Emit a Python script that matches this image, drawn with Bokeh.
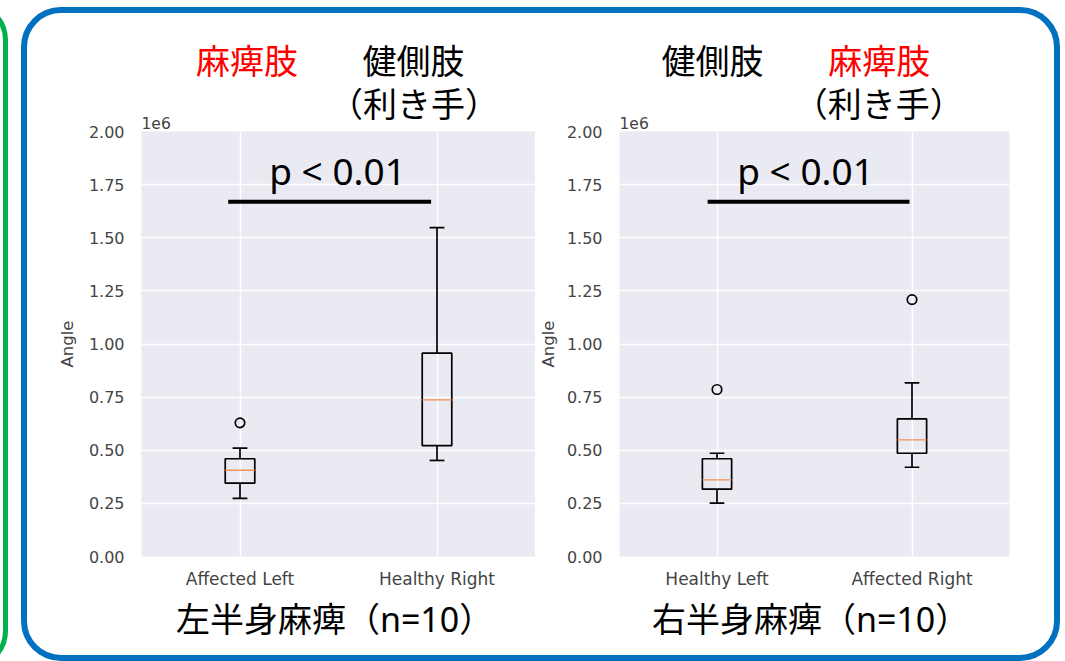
from bokeh.plotting import figure
from bokeh.layouts import row
from bokeh.models import FixedTicker, Label, ColumnDataSource, Range1d
from bokeh.embed import file_html
from bokeh.resources import INLINE

# ---------------- data (values in raw units, axis shows x1e6) ----------------
left_categories = ["Affected Left", "Healthy Right"]
left_whisker_low = [274000, 452000]
left_q1 = [345000, 522000]
left_median = [406000, 737000]
left_q3 = [460000, 957000]
left_whisker_high = [510000, 1548000]
left_outliers = [[629000], []]

right_categories = ["Healthy Left", "Affected Right"]
right_whisker_low = [251000, 420000]
right_q1 = [317000, 486000]
right_median = [361000, 549000]
right_q3 = [460000, 648000]
right_whisker_high = [486000, 817000]
right_outliers = [[786000], [1209000]]

y_ticks = [0, 250000, 500000, 750000, 1000000, 1250000, 1500000, 1750000, 2000000]
y_tick_labels = ["0.00", "0.25", "0.50", "0.75", "1.00", "1.25", "1.50", "1.75", "2.00"]

left_title = "左半身麻痺（n=10）"
right_title = "右半身麻痺（n=10）"
p_text = "p < 0.01"

AX_COLOR = "#444444"
MIXED = "Noto Sans, Noto Sans CJK JP"
CJK_ONLY = "Liberation Sans, Noto Sans CJK JP"


def build(cats, lo, q1, med, q3, hi, outl, width, bl, br, label_standoff, offset_place):
    p = figure(width=width, height=661, x_range=Range1d(0.5, 2.5), y_range=Range1d(0, 2000000),
               toolbar_location=None, output_backend="svg",
               min_border_left=bl, min_border_right=br, min_border_top=131, min_border_bottom=105,
               background_fill_color="#EAEAF2", border_fill_color="white", outline_line_color=None)
    pos = [1, 2]
    bw = 0.15
    src = ColumnDataSource(dict(
        x=pos, lo=lo, q1=q1, med=med, q3=q3, hi=hi,
        xl=[x - bw / 2 for x in pos], xr=[x + bw / 2 for x in pos],
        cl=[x - bw / 4 for x in pos], cr=[x + bw / 4 for x in pos],
    ))
    # whiskers
    p.segment(x0="x", y0="q3", x1="x", y1="hi", source=src, line_color="black", line_width=1.7)
    p.segment(x0="x", y0="q1", x1="x", y1="lo", source=src, line_color="black", line_width=1.7)
    # caps
    p.segment(x0="cl", y0="hi", x1="cr", y1="hi", source=src, line_color="black", line_width=1.7)
    p.segment(x0="cl", y0="lo", x1="cr", y1="lo", source=src, line_color="black", line_width=1.7)
    # boxes
    p.vbar(x="x", bottom="q1", top="q3", width=bw, source=src, fill_color=None,
           line_color="black", line_width=1.7)
    # medians
    p.segment(x0="xl", y0="med", x1="xr", y1="med", source=src, line_color="#f0905a", line_width=1.3)
    # outliers
    ox, oy = [], []
    for x, vals in zip(pos, outl):
        for v in vals:
            ox.append(x)
            oy.append(v)
    if ox:
        p.scatter(ox, oy, marker="circle", size=9.5, fill_color=None, line_color="black", line_width=1.7)

    # axes
    p.xaxis.ticker = FixedTicker(ticks=pos)
    p.xaxis.major_label_overrides = {1: cats[0], 2: cats[1]}
    p.yaxis.ticker = FixedTicker(ticks=y_ticks)
    p.yaxis.major_label_overrides = {t: l for t, l in zip(y_ticks, y_tick_labels)}
    for ax in (p.xaxis[0], p.yaxis[0]):
        ax.axis_line_color = None
        ax.major_tick_line_color = None
        ax.minor_tick_line_color = None
        ax.major_tick_out = 0
        ax.major_tick_in = 0
        ax.minor_tick_out = 0
        ax.major_label_text_font = "DejaVu Sans"
        ax.major_label_text_color = AX_COLOR
    p.yaxis.major_label_text_font_size = "16px"
    p.xaxis.major_label_text_font_size = "17px"
    p.yaxis.major_label_standoff = 17
    p.xaxis.major_label_standoff = 12
    p.yaxis.axis_label = "Angle"
    p.yaxis.axis_label_text_font = "DejaVu Sans"
    p.yaxis.axis_label_text_font_style = "normal"
    p.yaxis.axis_label_text_font_size = "16.5px"
    p.yaxis.axis_label_text_color = AX_COLOR
    p.yaxis.axis_label_standoff = label_standoff

    p.xgrid.ticker = FixedTicker(ticks=pos)
    p.ygrid.ticker = FixedTicker(ticks=y_ticks)
    p.grid.grid_line_color = "white"
    p.grid.grid_line_width = 1.5

    p.add_layout(Label(x=0.5, y=2042000, text="1e6", text_font="DejaVu Sans", text_font_size="15.5px",
                       text_color=AX_COLOR, text_align="left", text_baseline="middle"), offset_place)
    return p


def txt(p, x, y, text, place, color="black", size="34px", font=MIXED):
    p.add_layout(Label(x=x, y=y, text=text, text_font=font, text_font_size=size, text_color=color,
                       text_align="center", text_baseline="middle"), place)


p1 = build(left_categories, left_whisker_low, left_q1, left_median, left_q3, left_whisker_high,
           left_outliers, width=535, bl=141, br=0, label_standoff=9, offset_place="left")
p2 = build(right_categories, right_whisker_low, right_q1, right_median, right_q3, right_whisker_high,
           right_outliers, width=530, bl=80, br=56, label_standoff=6, offset_place="below")

# significance bars
p1.segment(x0=[0.94], y0=[1670000], x1=[1.97], y1=[1670000], line_color="black", line_width=4)
p2.segment(x0=[0.952], y0=[1670000], x1=[1.987], y1=[1670000], line_color="black", line_width=4)

# texts left panel
txt(p1, 1.036, 2325000, "麻痺肢", "above", color="#ff0000", font=CJK_ONLY)
txt(p1, 1.881, 2325000, "健側肢", "above", font=CJK_ONLY)
txt(p1, 1.883, 2127000, "（利き手）", "above", font=CJK_ONLY)
txt(p1, 1.495, 1816000, p_text, "center", size="37px")
txt(p1, 1.480, -296000, left_title, "below")
# texts right panel
txt(p2, 0.977, 2325000, "健側肢", "above", font=CJK_ONLY)
txt(p2, 1.832, 2325000, "麻痺肢", "above", color="#ff0000", font=CJK_ONLY)
txt(p2, 1.830, 2127000, "（利き手）", "above", font=CJK_ONLY)
txt(p2, 1.454, 1816000, p_text, "center", size="37px")
txt(p2, 1.480, -296000, right_title, "below")

css = """
:host { position: relative; overflow: hidden; }
:host::before { content: ""; position: absolute; left: 21px; top: 7px; width: 1039px; height: 654px;
  box-sizing: border-box; border: 6px solid #0070C0; border-radius: 40px; pointer-events: none; z-index: 10; }
:host::after { content: ""; position: absolute; left: -600px; top: 2px; width: 608px; height: 667px;
  box-sizing: border-box; border: 5.5px solid #00B050; border-radius: 38px; pointer-events: none; z-index: 10; }
"""

layout = row(p1, p2, stylesheets=[css])

open("out.html", "w").write(file_html(layout, INLINE))
